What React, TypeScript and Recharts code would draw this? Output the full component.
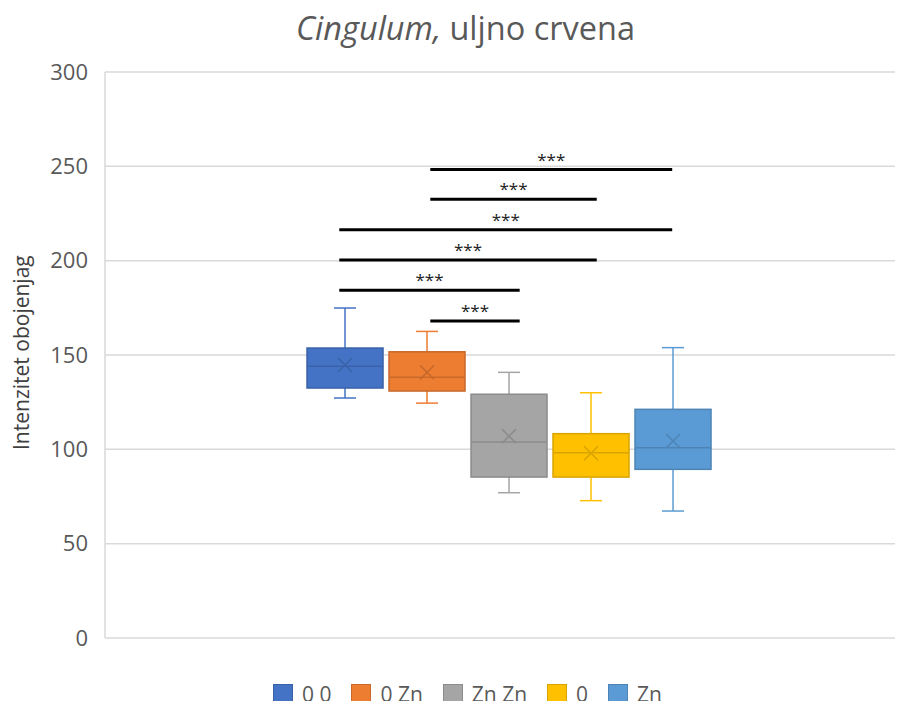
import React from 'react';
import { ComposedChart, Bar, Cell, XAxis, YAxis, CartesianGrid, ReferenceLine } from 'recharts';

// box plot statistics, one entry per group
const GROUPS = ['0 0', '0 Zn', 'Zn Zn', '0', 'Zn'];
const MINS = [127.2, 124.5, 77, 72.8, 67.3];
const Q1S = [132.5, 130.9, 85.3, 85.3, 89.4];
const MEDIANS = [144.1, 138.2, 103.9, 98.2, 100.8];
const Q3S = [153.7, 151.7, 129.2, 108.3, 121.2];
const MAXS = [174.9, 162.5, 140.8, 130, 153.9];
const MEANS = [144.7, 140.8, 107, 97.9, 104.4];

const COLORS = ['#4472C4', '#ED7D31', '#A5A5A5', '#FFC000', '#5B9BD5'];
const EDGES = ['#3A62A8', '#C9692A', '#8C8C8C', '#D9A300', '#4D84B5'];

// significance brackets: level, start/end on the group axis
const SIG_LEVELS = [248.3, 232.6, 216.4, 200.3, 184.3, 168];
const SIG_FROM = [1.04, 1.04, -0.07, -0.07, -0.07, 1.04];
const SIG_TO = [3.99, 3.07, 3.99, 3.07, 2.13, 2.13];
const SIG_LABELS = ['***', '***', '***', '***', '***', '***'];

const Y_TICKS = [0, 50, 100, 150, 200, 250, 300];

const FONT = '"Open Sans", sans-serif';
const TEXT = '#595959';

const data = GROUPS.map((name, i) => ({
  name,
  pos: i,
  box: [Q1S[i], Q3S[i]],
  min: MINS[i],
  q1: Q1S[i],
  median: MEDIANS[i],
  q3: Q3S[i],
  max: MAXS[i],
  mean: MEANS[i],
}));

const BoxShape = (props: any) => {
  const { x, y, width, height, payload, index } = props;
  const top = Math.min(y, y + height);
  const h = Math.abs(height);
  const unit = h / (payload.q3 - payload.q1);
  const yOf = (v: number) => top + (payload.q3 - v) * unit;
  const cx = x + width / 2;
  const edge = EDGES[index];
  const cap = 11;
  const m = 7;
  const my = yOf(payload.mean);
  return (
    <g>
      <line x1={cx} x2={cx} y1={yOf(payload.max)} y2={top} stroke={COLORS[index]} strokeWidth={1.5} />
      <line x1={cx} x2={cx} y1={top + h} y2={yOf(payload.min)} stroke={COLORS[index]} strokeWidth={1.5} />
      <line x1={cx - cap} x2={cx + cap} y1={yOf(payload.max)} y2={yOf(payload.max)} stroke={COLORS[index]} strokeWidth={1.5} />
      <line x1={cx - cap} x2={cx + cap} y1={yOf(payload.min)} y2={yOf(payload.min)} stroke={COLORS[index]} strokeWidth={1.5} />
      <rect x={x} y={top} width={width} height={h} fill={COLORS[index]} stroke={edge} strokeWidth={1.5} />
      <line x1={x} x2={x + width} y1={yOf(payload.median)} y2={yOf(payload.median)} stroke={edge} strokeWidth={1.5} />
      <line x1={cx - m} x2={cx + m} y1={my - m} y2={my + m} stroke={edge} strokeWidth={1.5} />
      <line x1={cx - m} x2={cx + m} y1={my + m} y2={my - m} stroke={edge} strokeWidth={1.5} />
    </g>
  );
};

export default function App() {
  return (
    <div style={{ position: 'relative', width: 893, height: 693, fontFamily: FONT, background: '#fff' }}>
      <div
        style={{
          position: 'absolute',
          top: -3,
          left: 0,
          width: 893,
          textAlign: 'center',
          fontSize: 32.5,
          color: TEXT,
          paddingLeft: 22,
          boxSizing: 'border-box',
        }}
      >
        <i>Cingulum,</i> uljno crvena
      </div>
      <div
        style={{
          position: 'absolute',
          left: 0,
          top: 245,
          height: 200,
          width: 26,
          display: 'flex',
          alignItems: 'center',
          justifyContent: 'center',
          writingMode: 'vertical-rl',
          transform: 'rotate(180deg)',
          fontSize: 21,
          color: '#404040',
          whiteSpace: 'nowrap',
          zIndex: 1,
        }}
      >
        Intenzitet obojenjag
      </div>
      <ComposedChart
        width={893}
        height={693}
        data={data}
        margin={{ top: 64, right: 6, bottom: 63, left: 0 }}
      >
        <CartesianGrid vertical={false} stroke="#d9d9d9" strokeWidth={1.5} />
        <XAxis dataKey="pos" type="number" domain={[-2.927, 6.707]} allowDataOverflow hide />
        <YAxis
          domain={[0, 300]}
          ticks={Y_TICKS}
          width={97}
          tickLine={false}
          tickSize={0}
          tickMargin={17}
          axisLine={{ stroke: '#d9d9d9', strokeWidth: 1.5 }}
          tick={{ fill: TEXT, fontSize: 22, fontFamily: FONT }}
        />
        <Bar dataKey="box" barSize={76} isAnimationActive={false} shape={<BoxShape />}>
          {data.map((d, i) => (
            <Cell key={d.name} fill={COLORS[i]} />
          ))}
        </Bar>
        {SIG_LEVELS.map((lvl, i) => (
          <ReferenceLine
            key={i}
            segment={[
              { x: SIG_FROM[i], y: lvl },
              { x: SIG_TO[i], y: lvl },
            ]}
            stroke="#000"
            strokeWidth={3}
            ifOverflow="visible"
            label={{ value: SIG_LABELS[i], position: 'top', fill: '#222', fontSize: 17, fontFamily: FONT, offset: 4 }}
          />
        ))}
      </ComposedChart>
      <div
        style={{
          position: 'absolute',
          top: 672,
          left: 0,
          width: 893,
          display: 'flex',
          justifyContent: 'center',
          gap: 20,
          fontSize: 21,
          color: TEXT,
          paddingLeft: 26,
          boxSizing: 'border-box',
        }}
      >
        {GROUPS.map((g, i) => (
          <div key={g} style={{ display: 'flex', alignItems: 'center', gap: 9 }}>
            <span
              style={{
                display: 'inline-block',
                width: 20,
                height: 20,
                background: COLORS[i],
                border: `1px solid ${EDGES[i]}`,
                boxSizing: 'border-box',
              }}
            />
            <span>{g}</span>
          </div>
        ))}
      </div>
    </div>
  );
}
